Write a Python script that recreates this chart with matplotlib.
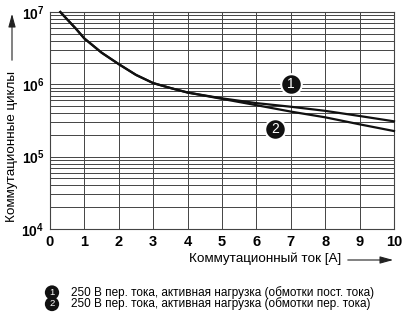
import matplotlib
matplotlib.use("Agg")
import matplotlib.pyplot as plt
from matplotlib.patches import FancyArrowPatch
from matplotlib.ticker import FixedLocator, NullFormatter, LogLocator

# data
current_a = [0.3, 0.5, 0.75, 1, 1.5, 2, 2.5, 3, 3.5, 4, 5, 6, 7, 8, 9, 10]
cycles_dc_coil = [1e7, 7.9e6, 5.9e6, 4.3e6, 2.74e6, 1.9e6, 1.35e6, 1.04e6, 8.9e5, 7.7e5,
                  6.4e5, 5.5e5, 4.9e5, 4.3e5, 3.65e5, 3.08e5]
cycles_ac_coil = [1e7, 7.9e6, 5.9e6, 4.3e6, 2.74e6, 1.9e6, 1.35e6, 1.04e6, 8.9e5, 7.7e5,
                  6.3e5, 5.15e5, 4.2e5, 3.5e5, 2.8e5, 2.26e5]
x_ticks = list(range(0, 11))
y_ticks = [1e4, 1e5, 1e6, 1e7]
y_tick_labels = [r'$\mathbf{10^{4}}$', r'$\mathbf{10^{5}}$', r'$\mathbf{10^{6}}$', r'$\mathbf{10^{7}}$']
marker_pos = [(7.0, 1.0e6), (6.55, 2.45e5)]
marker_labels = ['1', '2']
legend_texts = ['250 В пер. тока, активная нагрузка (обмотки пост. тока)',
                '250 В пер. тока, активная нагрузка (обмотки пер. тока)']
xlabel = 'Коммутационный ток [A]'
ylabel = 'Коммутационные циклы'

plt.rcParams['font.family'] = ['Liberation Sans', 'DejaVu Sans']
plt.rcParams['mathtext.fontset'] = 'custom'
plt.rcParams['mathtext.bf'] = 'Liberation Sans:bold'
plt.rcParams['mathtext.rm'] = 'Liberation Sans'

W, H = 408, 321
fig = plt.figure(figsize=(W / 100, H / 100), dpi=100)
ax = fig.add_axes([50 / W, 1 - 229 / H, 344 / W, 217 / H])
ax.set_yscale('log')
ax.set_xlim(0, 10)
ax.set_ylim(1e4, 1e7)

gc = '#444444'
ax.xaxis.set_major_locator(FixedLocator(x_ticks))
ax.yaxis.set_major_locator(FixedLocator(y_ticks))
ax.yaxis.set_minor_locator(LogLocator(base=10, subs=range(2, 10), numticks=20))
ax.yaxis.set_minor_formatter(NullFormatter())
ax.set_yticklabels(y_tick_labels)
ax.set_xticklabels([str(t) for t in x_ticks], fontweight='bold')
ax.grid(True, which='major', axis='both', color=gc, lw=0.7)
ax.grid(True, which='minor', axis='y', color=gc, lw=0.7)
ax.tick_params(which='both', length=0)
ax.tick_params(axis='x', labelsize=10.5, pad=4)
ax.tick_params(axis='y', labelsize=10, pad=4)
for s in ax.spines.values():
    s.set_color(gc)
    s.set_linewidth(0.8)

ax.plot(current_a, cycles_dc_coil, color='#111111', lw=1.6, zorder=3, clip_on=False)
ax.plot(current_a, cycles_ac_coil, color='#111111', lw=1.6, zorder=3, clip_on=False)

for (mx, my), lab in zip(marker_pos, marker_labels):
    ax.scatter([mx], [my], s=220, color='#111111', edgecolors='white', linewidths=1.5, zorder=5)
    ax.text(mx, my, lab, color='white', ha='center', va='center', fontsize=10, zorder=6)

# axis labels with arrows
fig.text(12 / W, 1 - 147 / H, ylabel, rotation=90, ha='center', va='center', fontsize=9.7)
fig.add_artist(FancyArrowPatch((12 / W, 1 - 63 / H), (12 / W, 1 - 11 / H),
               transform=fig.transFigure, arrowstyle='-|>,head_length=8,head_width=2.2',
               color='#222222', lw=0.8, mutation_scale=1))
fig.text(265 / W, 1 - 259 / H, xlabel, ha='center', va='center', fontsize=9.7)
fig.add_artist(FancyArrowPatch((345 / W, 1 - 260 / H), (396 / W, 1 - 260 / H),
               transform=fig.transFigure, arrowstyle='-|>,head_length=8,head_width=2.2',
               color='#222222', lw=0.8, mutation_scale=1))

# legend
for i, (lab, txt) in enumerate(zip(marker_labels, legend_texts)):
    yy = 1 - (292.5 + i * 11.5) / H
    fig.text(52 / W, yy, lab, ha='center', va='center', fontsize=6.8, color='white',
             bbox=dict(boxstyle='circle,pad=0.28', fc='#111111', ec='none'))
    fig.text(71 / W, yy, txt, ha='left', va='center', fontsize=8.5)

fig.savefig('out.png', dpi=100)
